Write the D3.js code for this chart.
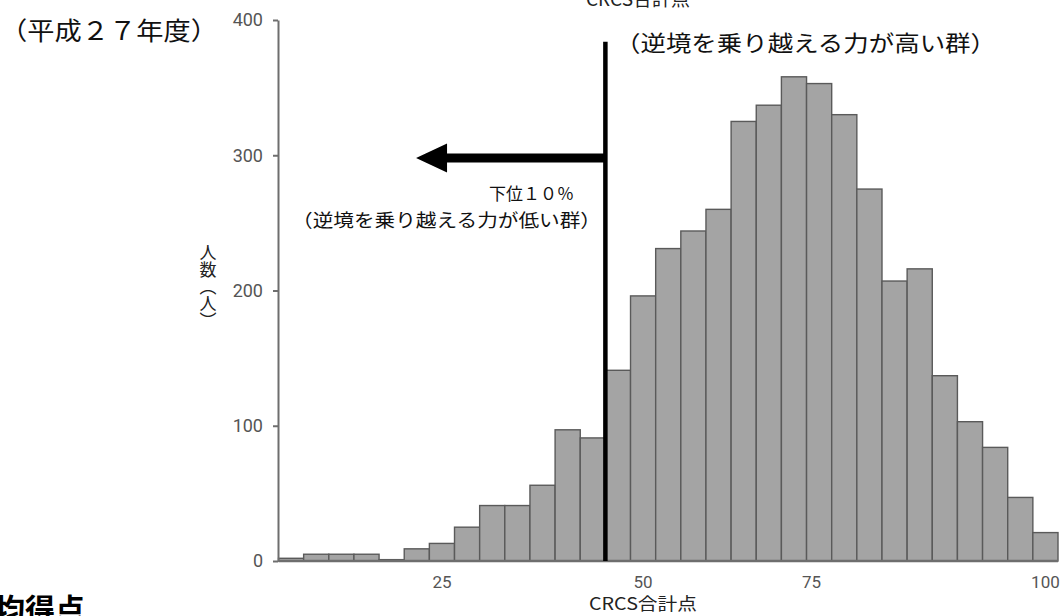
<!DOCTYPE html>
<html>
<head>
<meta charset="utf-8">
<script src="https://cdn.jsdelivr.net/npm/d3@7"></script>
<style>
  html, body { margin: 0; padding: 0; background: #fff; overflow: hidden; }
  svg { display: block; }
  .cjk { font-family: "Noto Sans CJK JP", "Noto Sans", sans-serif; }
  .num { font-family: Roboto, "Liberation Sans", sans-serif; }
</style>
</head>
<body>
<svg id="chart" width="1061" height="616"></svg>
<script>
// ---- data ----
const counts = [2, 5, 5, 5, 1, 9, 13, 25, 41, 41, 56, 97, 91, 141, 196, 231, 244, 260, 325, 337, 358, 353, 330, 275, 207, 216, 137, 103, 84, 47, 21];
const yTicks = [0, 100, 200, 300, 400];
const xTickLabels = ["25", "50", "75", "100"];
const xTickBins = [6.5, 14.5, 21.2, 30.5];   // tick positions in bin units
const cutoffBin = 13;                         // lower 10% cut
const cutoffTop = 384;                        // top of cutoff line (count units)
const arrowLevel = 298;                       // arrow height (count units)
const arrowTipBin = 5.47;                     // arrow tip (bin units)

const svg = d3.select("#chart");
const x = d3.scaleLinear().domain([0, counts.length]).range([278.5, 1058]);
const y = d3.scaleLinear().domain([0, 400]).range([561, 20]);

// bars
svg.append("g").selectAll("rect").data(counts).join("rect")
  .attr("x", (d, i) => x(i))
  .attr("y", d => y(d))
  .attr("width", x(1) - x(0))
  .attr("height", d => y(0) - y(d))
  .attr("fill", "#a4a4a4")
  .attr("stroke", "#5a5a5a")
  .attr("stroke-width", 1.4);

// y axis
const ya = svg.append("g").attr("transform", `translate(${x(0) - 0.5},0)`)
  .call(d3.axisLeft(y).tickValues(yTicks).tickSize(5).tickSizeOuter(0).tickPadding(10));
ya.select(".domain").attr("stroke", "#6e6e6e").attr("stroke-width", 2);
ya.selectAll(".tick line").attr("stroke", "#6e6e6e").attr("stroke-width", 2);
ya.selectAll(".tick text").attr("class", "num").attr("font-size", 18).attr("fill", "#555");

// x axis line
svg.append("line")
  .attr("x1", x(0)).attr("x2", x(counts.length))
  .attr("y1", y(0)).attr("y2", y(0))
  .attr("stroke", "#6e6e6e").attr("stroke-width", 2.5);

// x tick labels
svg.append("g").selectAll("text").data(xTickLabels).join("text")
  .attr("class", "num")
  .attr("x", (d, i) => x(xTickBins[i]))
  .attr("y", 588)
  .attr("text-anchor", "middle")
  .attr("font-size", 17)
  .attr("fill", "#555")
  .text(d => d);

// cutoff line
svg.append("line")
  .attr("x1", x(cutoffBin)).attr("x2", x(cutoffBin))
  .attr("y1", y(cutoffTop)).attr("y2", y(0))
  .attr("stroke", "#000").attr("stroke-width", 4.5);

// arrow
const ay = y(arrowLevel), tip = x(arrowTipBin);
svg.append("path")
  .attr("d", `M${x(cutoffBin)},${ay - 4.5} L${tip + 31},${ay - 4.5} L${tip + 31},${ay - 14.5} L${tip},${ay} L${tip + 31},${ay + 14.5} L${tip + 31},${ay + 4.5} L${x(cutoffBin)},${ay + 4.5} Z`)
  .attr("fill", "#000");

// annotations
svg.append("text").attr("class", "cjk")
  .attr("x", 574).attr("y", 200).attr("text-anchor", "end")
  .attr("font-size", 17).attr("fill", "#111")
  .text("下位１０％");
svg.append("text").attr("class", "cjk")
  .attr("x", 292).attr("y", 227)
  .attr("font-size", 18).attr("fill", "#111")
  .attr("textLength", 309).attr("lengthAdjust", "spacingAndGlyphs")
  .text("（逆境を乗り越える力が低い群）");
svg.append("text").attr("class", "cjk")
  .attr("x", 615).attr("y", 51)
  .attr("font-size", 22).attr("fill", "#111")
  .attr("textLength", 381).attr("lengthAdjust", "spacingAndGlyphs")
  .text("（逆境を乗り越える力が高い群）");
svg.append("text").attr("class", "cjk")
  .attr("x", 0).attr("y", 40)
  .attr("font-size", 25).attr("fill", "#111")
  .attr("textLength", 218).attr("lengthAdjust", "spacingAndGlyphs")
  .text("（平成２７年度）");

// titles
svg.append("text").attr("class", "cjk")
  .attr("x", 638).attr("y", 6).attr("text-anchor", "middle")
  .attr("font-size", 19).attr("fill", "#222")
  .text("CRCS合計点");
svg.append("text").attr("class", "cjk")
  .attr("x", 643).attr("y", 610).attr("text-anchor", "middle")
  .attr("font-size", 17).attr("fill", "#222")
  .attr("textLength", 108).attr("lengthAdjust", "spacingAndGlyphs")
  .text("CRCS合計点");
svg.append("text").attr("class", "cjk")
  .attr("x", 208).attr("y", 244)
  .attr("font-size", 17).attr("fill", "#222")
  .style("writing-mode", "vertical-rl")
  .style("text-orientation", "upright")
  .text("人数（人）");
svg.append("text").attr("class", "cjk")
  .attr("x", -35).attr("y", 620)
  .attr("font-size", 30).attr("font-weight", "bold").attr("fill", "#000")
  .text("平均得点");
</script>
</body>
</html>
